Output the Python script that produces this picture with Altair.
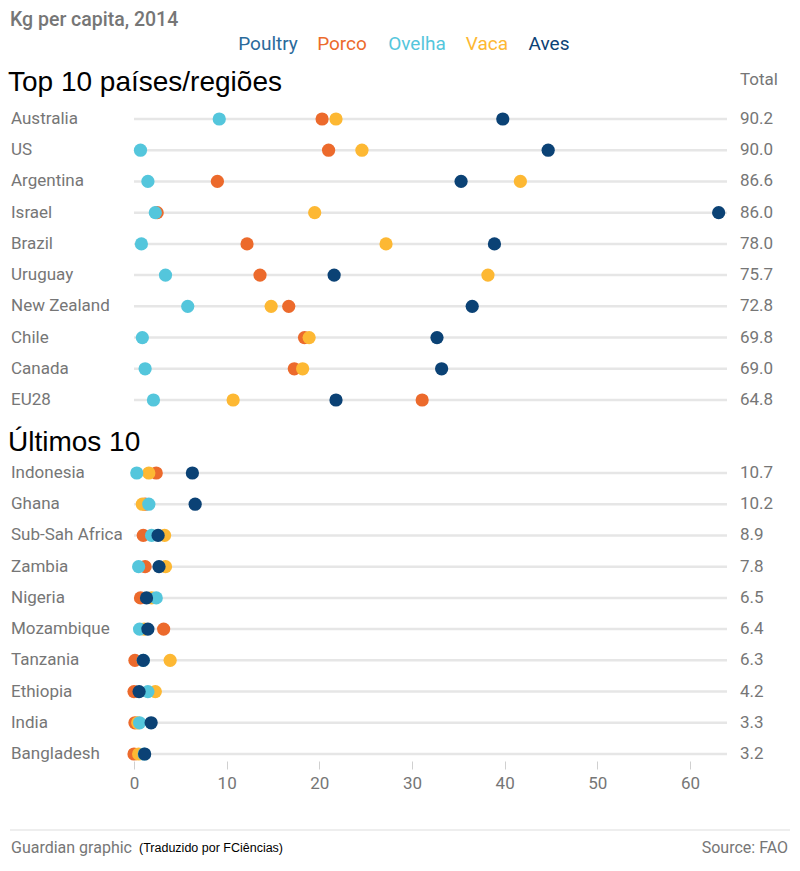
import altair as alt
import pandas as pd

# ---------------- data ----------------
series_order = ["Porco", "Vaca", "Ovelha", "Aves"]  # drawing order

countries_top = ["Australia", "US", "Argentina", "Israel", "Brazil", "Uruguay",
                 "New Zealand", "Chile", "Canada", "EU28"]
porco_top = [20.3, 21.0, 9.0, 2.5, 12.2, 13.6, 16.7, 18.4, 17.3, 31.1]
ovelha_top = [9.2, 0.7, 1.5, 2.3, 0.8, 3.4, 5.8, 0.9, 1.2, 2.1]
vaca_top = [21.8, 24.6, 41.7, 19.5, 27.2, 38.2, 14.8, 18.9, 18.2, 10.7]
aves_top = [39.8, 44.7, 35.3, 63.1, 38.9, 21.6, 36.5, 32.7, 33.2, 21.8]
totals_top = [90.2, 90.0, 86.6, 86.0, 78.0, 75.7, 72.8, 69.8, 69.0, 64.8]

countries_bot = ["Indonesia", "Ghana", "Sub-Sah Africa", "Zambia", "Nigeria",
                 "Mozambique", "Tanzania", "Ethiopia", "India", "Bangladesh"]
porco_bot = [2.4, 1.2, 1.0, 1.2, 0.7, 3.2, 0.1, 0.0, 0.1, 0.0]
ovelha_bot = [0.3, 1.6, 1.9, 0.5, 2.4, 0.6, 1.0, 1.5, 0.6, 1.1]
vaca_bot = [1.6, 0.9, 3.3, 3.4, 1.9, 1.1, 3.9, 2.3, 0.4, 0.5]
aves_bot = [6.3, 6.6, 2.6, 2.7, 1.35, 1.5, 1.0, 0.55, 1.85, 1.15]
totals_bot = [10.7, 10.2, 8.9, 7.8, 6.5, 6.4, 6.3, 4.2, 3.3, 3.2]

legend_labels = ["Poultry", "Porco", "Ovelha", "Vaca", "Aves"]
legend_colors = ["#2a6a9b", "#ec6a2c", "#54c6dc", "#fdb833", "#0b4275"]

header_text = "Kg per capita, 2014"
section_top = "Top 10 países/regiões"
section_bot = "Últimos 10"
total_header = "Total"
footer_left = "Guardian graphic"
footer_note = "(Traduzido por FCiências)"
footer_right = "Source: FAO"
x_ticks = [0, 10, 20, 30, 40, 50, 60]

# ---------------- layout / styling ----------------
LABEL_FONT = "Roboto"
TITLE_FONT = "Liberation Sans"
GRAY = "#767676"
legend_x = [268, 342, 417, 487, 549]   # layout positions of legend words

color_scale = alt.Scale(domain=legend_labels, range=legend_colors)
x_scale = alt.Scale(domain=[0, 64], range=[134, 727], nice=False, zero=False)
x_axis = alt.Axis(orient="bottom", domain=False, ticks=True, tickColor="#d0d0d0",
                  tickSize=8, labelPadding=6, labelFontSize=17, labelColor=GRAY,
                  labelFont=LABEL_FONT, labelFlush=False, grid=False, title=None,
                  values=x_ticks)


def long_frame(countries, porco, ovelha, vaca, aves):
    vals = {"Porco": porco, "Ovelha": ovelha, "Vaca": vaca, "Aves": aves}
    rows = []
    for z, s in enumerate(series_order):
        for c, v in zip(countries, vals[s]):
            rows.append({"country": c, "series": s, "value": v, "z": z})
    return pd.DataFrame(rows)


def group(countries, porco, ovelha, vaca, aves, totals, yrange):
    df = long_frame(countries, porco, ovelha, vaca, aves)
    cdf = pd.DataFrame({"country": countries, "total": totals})

    def yenc():
        return alt.Y("country:N", sort=countries,
                     scale=alt.Scale(type="point", domain=countries, range=yrange, padding=0),
                     axis=None)

    rules = alt.Chart(cdf).mark_rule(color="#e6e6e6", strokeWidth=2.5).encode(
        y=yenc(),
        x=alt.XDatum(0, scale=x_scale, axis=x_axis),
        x2=alt.X2Datum(64))
    pts = alt.Chart(df).mark_circle(size=175, opacity=1).encode(
        x=alt.X("value:Q", scale=x_scale, axis=x_axis),
        y=yenc(),
        color=alt.Color("series:N", scale=color_scale, legend=None),
        order=alt.Order("z:Q"))
    names = alt.Chart(cdf).mark_text(align="left", baseline="middle", font=LABEL_FONT,
                                     fontSize=17, color=GRAY).encode(
        x=alt.value(11), y=yenc(), text="country:N")
    tots = alt.Chart(cdf).mark_text(align="left", baseline="middle", font=LABEL_FONT,
                                    fontSize=17, color=GRAY).encode(
        x=alt.value(740), y=yenc(), text=alt.Text("total:Q", format=".1f"))
    return [rules, pts, names, tots]


def text_layer(txt, x, y, **kw):
    return alt.Chart(pd.DataFrame({"t": [txt]})).mark_text(**kw).encode(
        text="t:N", x=alt.value(x), y=alt.value(y))


layers = []
layers += group(countries_top, porco_top, ovelha_top, vaca_top, aves_top, totals_top, [119, 400])
layers += group(countries_bot, porco_bot, ovelha_bot, vaca_bot, aves_bot, totals_bot, [473, 754])

for lab, col, lx in zip(legend_labels, legend_colors, legend_x):
    layers.append(text_layer(lab, lx, 44, align="center", baseline="middle",
                             font=LABEL_FONT, fontSize=19, color=col))

layers.append(text_layer(header_text, 10, 20, align="left", baseline="middle",
                         font=LABEL_FONT, fontSize=19.5, fontWeight=500, color=GRAY))
layers.append(text_layer(section_top, 8, 91, align="left", baseline="alphabetic",
                         font=TITLE_FONT, fontSize=28, color="#000000"))
layers.append(text_layer(section_bot, 8, 451, align="left", baseline="alphabetic",
                         font=TITLE_FONT, fontSize=28, color="#000000"))
layers.append(text_layer(total_header, 740, 80, align="left", baseline="middle",
                         font=LABEL_FONT, fontSize=17, color=GRAY))
layers.append(alt.Chart(pd.DataFrame({"a": [0]})).mark_rule(
    color="#e8e8e8", strokeWidth=1.5).encode(
    x=alt.value(10), x2=alt.value(790), y=alt.value(830)))
layers.append(text_layer(footer_left, 11, 848, align="left", baseline="middle",
                         font=LABEL_FONT, fontSize=16, color=GRAY))
layers.append(text_layer(footer_note, 139, 848, align="left", baseline="middle",
                         font=TITLE_FONT, fontSize=12.5, color="#000000"))
layers.append(text_layer(footer_right, 788, 848, align="right", baseline="middle",
                         font=LABEL_FONT, fontSize=16, color=GRAY))

chart = alt.layer(*layers).resolve_scale(
    y="independent"
).properties(
    width=800, height=761,
    padding={"left": 0, "top": 0, "right": 0, "bottom": 110},
    autosize=alt.AutoSizeParams(type="none"),
    background="white",
).configure_view(stroke=None)

chart.save("out.html", embed_options={"renderer": "svg", "actions": False})
